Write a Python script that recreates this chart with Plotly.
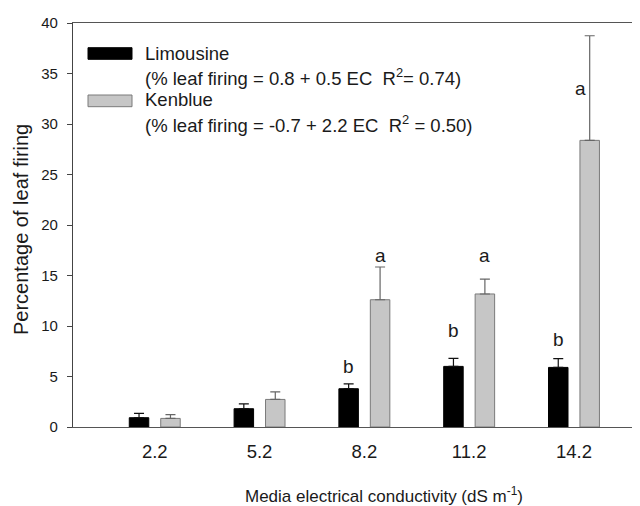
import plotly.graph_objects as go

# ---- data ----
categories = ["2.2", "5.2", "8.2", "11.2", "14.2"]
limousine = [0.92, 1.81, 3.79, 6.0, 5.9]
limousine_err = [0.43, 0.47, 0.47, 0.79, 0.86]
kenblue = [0.85, 2.73, 12.6, 13.17, 28.38]
kenblue_err = [0.37, 0.74, 3.24, 1.48, 10.36]

# significance letters
letters_cat = ["8.2", "8.2", "11.2", "11.2", "14.2", "14.2"]
letters_series = ["Limousine", "Kenblue", "Limousine", "Kenblue", "Limousine", "Kenblue"]
letters_text = ["b", "a", "b", "a", "b", "a"]
letters_y = [6.0, 17.0, 9.57, 17.0, 8.64, 33.56]

y_ticks = [0, 5, 10, 15, 20, 25, 30, 35, 40]

FONT = "Liberation Sans, Arial, Helvetica, sans-serif"
TXT = "#1a1a1a"

fig = go.Figure()
fig.add_trace(go.Bar(
    name="Limousine", x=categories, y=limousine,
    marker=dict(color="#000000", line=dict(color="#000000", width=1)),
    error_y=dict(type="data", array=limousine_err, symmetric=False,
                 arrayminus=[0] * len(limousine_err),
                 color="#111111", thickness=1.2, width=5),
))
fig.add_trace(go.Bar(
    name="Kenblue", x=categories, y=kenblue,
    marker=dict(color="#c6c6c6", line=dict(color="#7a7a7a", width=1)),
    error_y=dict(type="data", array=kenblue_err, symmetric=False,
                 arrayminus=[0] * len(kenblue_err),
                 color="#666666", thickness=1.2, width=5),
))

# significance letters
series_shift = {"Limousine": -15.7, "Kenblue": 15.7}
for c, s, t, yv in zip(letters_cat, letters_series, letters_text, letters_y):
    nudge = -9 if (c == "14.2" and s == "Kenblue") else 0
    fig.add_annotation(x=categories.index(c), y=yv, text=t, showarrow=False,
                       xref="x", yref="y",
                       xshift=series_shift[s] + nudge,
                       font=dict(family=FONT, size=19, color=TXT))

# legend (drawn manually); plot area: x 73..640, y 23..427 in page pixels
PW, PH, PL, PT = 567, 404, 73, 23
def px(x):
    return (x - PL) / PW
def py(y):
    return 1 - (y - PT) / PH

fig.add_shape(type="rect", xref="paper", yref="paper",
              x0=px(88), x1=px(132), y0=py(59.3), y1=py(47.7),
              fillcolor="#000000", line=dict(color="#000000", width=1))
fig.add_shape(type="rect", xref="paper", yref="paper",
              x0=px(88), x1=px(132), y0=py(106.7), y1=py(95),
              fillcolor="#c6c6c6", line=dict(color="#7a7a7a", width=1))
legend_lines = [
    ("Limousine", 53.3),
    ("(% leaf firing = 0.8 + 0.5 EC\u00a0\u00a0R<sup>2</sup>= 0.74)", 77.3),
    ("Kenblue", 100.0),
    ("(% leaf firing = -0.7 + 2.2 EC\u00a0\u00a0R<sup>2</sup> = 0.50)", 124.0),
]
for txt, yc in legend_lines:
    fig.add_annotation(x=px(143), y=py(yc), xref="paper", yref="paper",
                       text=txt, showarrow=False, xanchor="left", yanchor="middle",
                       font=dict(family=FONT, size=18.5, color=TXT))

# axis titles as annotations
fig.add_annotation(x=px(384), y=py(495), xref="paper", yref="paper",
                   text="Media electrical conductivity (dS m<sup>-1</sup>)", showarrow=False,
                   xanchor="center", yanchor="middle",
                   font=dict(family=FONT, size=17, color=TXT))
fig.add_annotation(x=px(21), y=py(230), xref="paper", yref="paper",
                   text="Percentage of leaf firing", showarrow=False, textangle=-90,
                   xanchor="center", yanchor="middle",
                   font=dict(family=FONT, size=20, color=TXT))

# page has an 8px body margin, so the figure is 632x498 placed at (8,8)
fig.update_layout(
    width=632, height=498,
    margin=dict(l=65, r=0, t=15, b=79),
    paper_bgcolor="white", plot_bgcolor="white",
    barmode="group", bargap=0.4, bargroupgap=0.38,
    showlegend=False,
    font=dict(family=FONT, color=TXT),
)
fig.update_xaxes(
    type="category", range=[-0.78, 4.63],
    showline=True, linecolor="#555555", linewidth=1.2, mirror=True,
    ticks="outside", ticklen=8, tickcolor="rgba(0,0,0,0)",
    tickfont=dict(family=FONT, size=18.5, color=TXT),
    showgrid=False, zeroline=False,
)
fig.update_yaxes(
    range=[0, 40], tickvals=y_ticks, ticktext=[str(v) for v in y_ticks],
    showline=True, linecolor="#444444", linewidth=1.2, mirror=False,
    ticks="outside", ticklen=5, tickcolor="#444444", tickwidth=1,
    tickfont=dict(family=FONT, size=15, color=TXT),
    ticklabelstandoff=6,
    showgrid=False, zeroline=False,
)

fig.write_html("out.html")
